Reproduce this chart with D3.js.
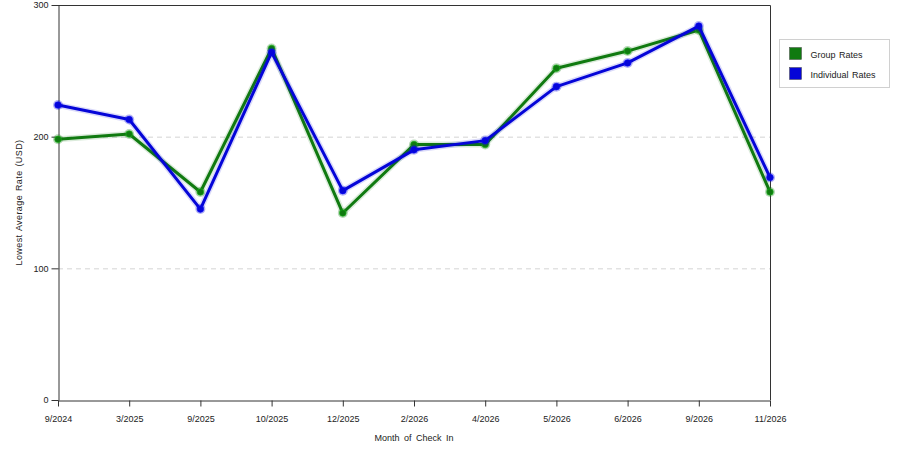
<!DOCTYPE html>
<html>
<head>
<meta charset="utf-8">
<script src="https://cdn.jsdelivr.net/npm/d3@7"></script>
<style>
  body { margin: 0; background: #fff; }
  text { font-family: "Liberation Sans", Arial, sans-serif; fill: #222; }
</style>
</head>
<body>
<div id="chart"></div>
<script>
// DATA
const months = ["9/2024", "3/2025", "9/2025", "10/2025", "12/2025", "2/2026", "4/2026", "5/2026", "6/2026", "9/2026", "11/2026"];
const groupRates = [198, 202, 158, 267, 142, 194, 194, 252, 265, 281, 158];
const individualRates = [224, 213, 145, 264, 159, 190, 197, 238, 256, 284, 169];
const yTicks = [0, 100, 200, 300];
const seriesNames = ["Group Rates", "Individual Rates"];

// SIZES
const width = 900, height = 450;
const margin = {top: 5, right: 130, bottom: 50, left: 58};
const greenColor = "#107a10";
const blueColor = "#0505d8";

const svg = d3.select("#chart").append("svg")
    .attr("width", width)
    .attr("height", height);

// SCALES
const xScale = d3.scalePoint()
    .domain(months)
    .range([margin.left, width - margin.right]);

const yScale = d3.scaleLinear()
    .domain([0, 300])
    .range([height - margin.bottom, margin.top]);

// GRID LINES
svg.append("g")
    .selectAll("line")
    .data([100, 200])
    .enter()
    .append("line")
    .attr("x1", margin.left)
    .attr("x2", width - margin.right)
    .attr("y1", d => yScale(d) + 0.5)
    .attr("y2", d => yScale(d) + 0.5)
    .attr("stroke", "#d4d4d4")
    .attr("stroke-dasharray", "5,4");

// FRAME (top + right)
svg.append("path")
    .attr("d", `M${margin.left},${margin.top + 0.5}H${width - margin.right + 0.5}V${height - margin.bottom}`)
    .attr("fill", "none")
    .attr("stroke", "#333");

// X AXIS
const xAxis = svg.append("g")
    .attr("transform", "translate(0," + (height - margin.bottom + 0.5) + ")")
    .call(d3.axisBottom(xScale).tickSize(6).tickPadding(9).tickSizeOuter(0));
xAxis.select(".domain").attr("stroke", "#333");
xAxis.selectAll(".tick line").attr("stroke", "#333");
xAxis.selectAll("text").style("font-size", "9px").style("font-family", "Liberation Sans, Arial, sans-serif").attr("fill", "#222");

// Y AXIS
const yAxis = svg.append("g")
    .attr("transform", "translate(" + (margin.left + 0.5) + ",0)")
    .call(d3.axisLeft(yScale).tickValues(yTicks).tickSize(7).tickPadding(3).tickSizeOuter(0));
yAxis.select(".domain").attr("stroke", "#333");
yAxis.selectAll(".tick line").attr("stroke", "#333");
yAxis.selectAll("text").style("font-size", "9px").style("font-family", "Liberation Sans, Arial, sans-serif").attr("fill", "#222");

// AXIS LABELS
svg.append("text")
    .attr("text-anchor", "middle")
    .attr("x", (margin.left + width - margin.right) / 2)
    .attr("y", 441)
    .style("font-size", "9px")
    .style("word-spacing", "2px")
    .text("Month of Check In");

svg.append("text")
    .attr("text-anchor", "middle")
    .attr("transform", "translate(22," + ((margin.top + height - margin.bottom) / 2) + ") rotate(-90)")
    .style("font-size", "9px")
    .style("letter-spacing", "0.4px")
    .style("word-spacing", "1px")
    .text("Lowest Average Rate (USD)");

// LINES
const line = d3.line()
    .x((d, i) => xScale(months[i]))
    .y(d => yScale(d));

function drawSeries(values, color) {
    // soft halo under the line
    svg.append("path")
        .datum(values)
        .attr("fill", "none")
        .attr("stroke", color)
        .attr("stroke-opacity", 0.15)
        .attr("stroke-width", 6)
        .attr("stroke-linejoin", "round")
        .attr("d", line);

    svg.append("path")
        .datum(values)
        .attr("fill", "none")
        .attr("stroke", color)
        .attr("stroke-width", 3)
        .attr("stroke-linejoin", "round")
        .attr("d", line);

    const pts = svg.append("g").selectAll("g")
        .data(values)
        .enter()
        .append("g")
        .attr("transform", (d, i) => "translate(" + xScale(months[i]) + "," + yScale(d) + ")");

    pts.append("circle")
        .attr("r", 5)
        .attr("fill", color)
        .attr("fill-opacity", 0.3);

    pts.append("circle")
        .attr("r", 3.3)
        .attr("fill", color)
        .attr("stroke", d3.color(color).brighter(1.2))
        .attr("stroke-opacity", 0.6)
        .attr("stroke-width", 1);
}

drawSeries(groupRates, greenColor);
drawSeries(individualRates, blueColor);

// LEGEND
const legend = svg.append("g")
    .attr("transform", "translate(779.5,39.5)");

legend.append("rect")
    .attr("width", 110)
    .attr("height", 48)
    .attr("fill", "#fff")
    .attr("stroke", "#d0d0d0");

const legendItems = legend.selectAll(".legend-item")
    .data(seriesNames)
    .enter()
    .append("g")
    .attr("class", "legend-item")
    .attr("transform", (d, i) => "translate(10," + (8 + i * 20) + ")");

legendItems.append("rect")
    .attr("width", 12)
    .attr("height", 12)
    .attr("fill", (d, i) => i === 0 ? greenColor : blueColor)
    .attr("stroke", "#444")
    .attr("stroke-width", 0.5);

legendItems.append("text")
    .attr("x", 21)
    .attr("y", 10)
    .style("font-size", "9px")
    .style("word-spacing", "1px")
    .text(d => d);
</script>
</body>
</html>
